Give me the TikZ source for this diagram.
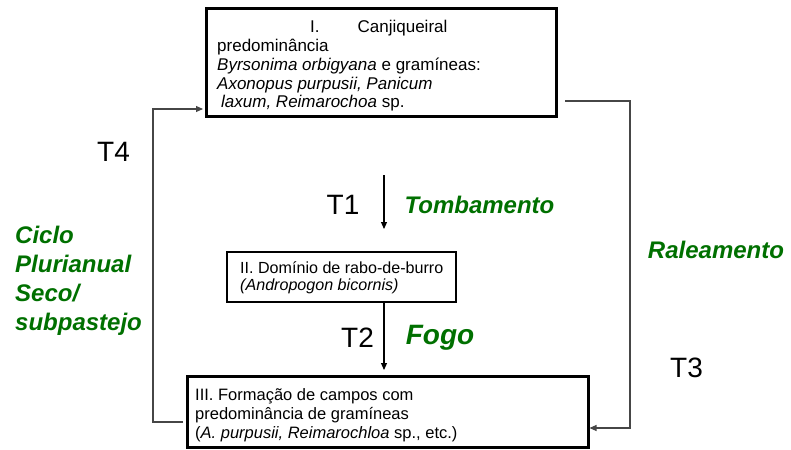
\documentclass[tikz,border=0pt]{standalone}
\usepackage{fontspec}
\setmainfont{Liberation Sans}
\usetikzlibrary{arrows.meta}
\definecolor{vgreen}{RGB}{0,112,0}
\definecolor{linegray}{RGB}{70,70,70}
\begin{document}
\begin{tikzpicture}[x=1pt,y=-1pt,
  stagebox/.style={draw=black,line width=3pt,rectangle,inner sep=0pt,anchor=center},
  boxtext/.style={align=left,anchor=west,inner sep=0pt,font=\fontsize{16.5}{19}\selectfont},
  tlabel/.style={font=\fontsize{28}{30}\selectfont,inner sep=0pt},
  glabel/.style={font=\fontsize{24}{29}\selectfont\bfseries\itshape,text=vgreen,inner sep=0pt},
  conn/.style={draw=linegray,line width=1.1pt},
  tip/.style={-{Triangle[length=7pt,width=6pt]}},
]
\useasboundingbox (0,0) rectangle (791,449);

% boxes
\node[stagebox,minimum width=350pt,minimum height=108pt] (boxI) at (381,63) {};
\node[stagebox,line width=2.6pt,minimum width=229pt,minimum height=50pt] (boxII) at (341.5,277) {};
\node[stagebox,minimum width=401pt,minimum height=71pt] (boxIII) at (387.5,411.5) {};

% box texts
\node[boxtext,font=\fontsize{17}{18.75}\selectfont] (txtI) at (217,66)
 {\hspace*{93pt}I.\hspace{38pt}Canjiqueiral\\
  predominância\\
  \textit{Byrsonima orbigyana} e gramíneas:\\
  \textit{Axonopus purpusii, Panicum}\\
  \hspace*{4pt}\textit{laxum, Reimarochoa} sp.};
\node[boxtext,font=\fontsize{16.1}{17.5}\selectfont] (txtII) at (240,277.5)
 {II. Domínio de rabo-de-burro\\
  \textit{(Andropogon bicornis)}};
\node[boxtext] (txtIII) at (195,415)
 {III. Formação de campos com\\
  predominância de gramíneas\\
  (\textit{A. purpusii, Reimarochloa} sp., etc.)};

% connectors
\coordinate (t1s) at (384,175);
\coordinate (t1e) at (384,229);
\draw[conn,draw=black,tip] (t1s) -- (t1e);

\coordinate (t2e) at (384,370);
\draw[conn,draw=black,tip] (t2e |- boxII.south) -- (t2e);

\coordinate (r0) at (565,101);
\coordinate (r1) at (630,428);
\draw[conn,tip] (r0) -| (r1) -- (r1 -| boxIII.east);

\coordinate (l0) at (183,422);
\coordinate (l1) at (153,109);
\draw[conn,tip] (l0) -| (l1) -- ([xshift=-1.5pt]l1 -| boxI.west);

% labels
\node[tlabel] (T1) at (343,205) {T1};
\node[glabel] (tomb) at (479.5,205) {Tombamento};
\node[tlabel] (T2) at (357.5,338) {T2};
\node[glabel,font=\fontsize{28}{30}\selectfont\bfseries\itshape] (fogo) at (440,338) {Fogo};
\node[tlabel] (T3) at (686.5,368) {T3};
\node[tlabel] (T4) at (113.5,152) {T4};
\node[glabel] (ral) at (716,250) {Raleamento};
\node[glabel,align=left,anchor=west] (ciclo) at (15,281) {Ciclo\\Plurianual\\Seco/\\subpastejo};
\end{tikzpicture}
\end{document}
